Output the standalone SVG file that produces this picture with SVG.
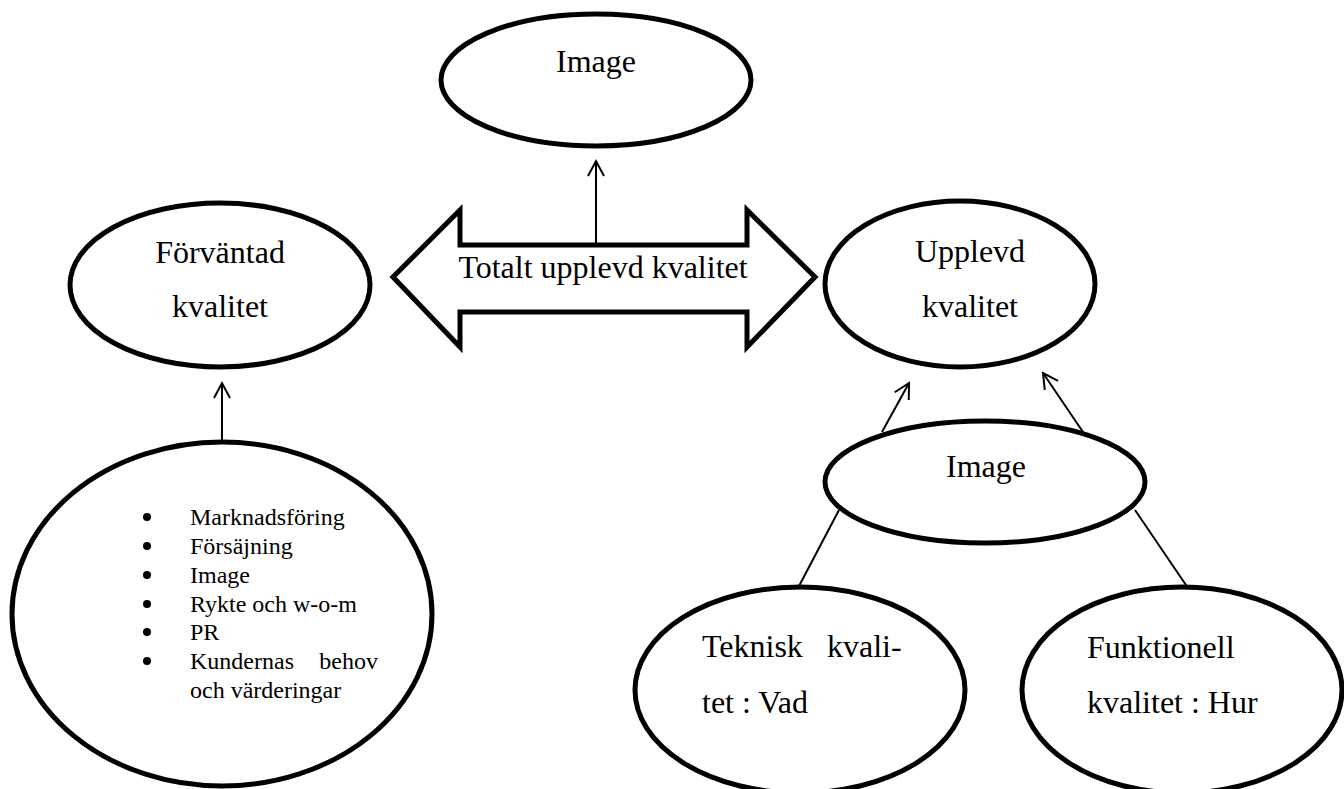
<svg xmlns="http://www.w3.org/2000/svg" width="1344" height="789" viewBox="0 0 1344 789">
<style>
.n{fill:#fff;stroke:#000;stroke-width:5}
.t{font-family:"Liberation Serif","Times New Roman",serif;font-size:32px;fill:#000}
.s{font-family:"Liberation Serif","Times New Roman",serif;font-size:24px;fill:#000}
.c{stroke:#000;stroke-width:2;fill:none}
</style>
<defs>
<marker id="ah" markerUnits="userSpaceOnUse" markerWidth="24" markerHeight="24" refX="0" refY="0" viewBox="-12 -12 24 24" orient="auto" overflow="visible">
<path d="M-15,-8 L0,0 L-15,8" fill="none" stroke="#000" stroke-width="2"/>
</marker>
<circle id="dot" r="4" fill="#000"/>
</defs>
<rect width="1344" height="789" fill="#fff"/>
<g id="connectors">
<line class="c" x1="596" y1="243" x2="596" y2="161" marker-end="url(#ah)"/>
<line class="c" x1="222" y1="442" x2="222" y2="383" marker-end="url(#ah)"/>
<line class="c" x1="882" y1="432" x2="909" y2="383" marker-end="url(#ah)"/>
<line class="c" x1="1083" y1="432" x2="1043" y2="373" marker-end="url(#ah)"/>
<line class="c" x1="839" y1="510" x2="798" y2="588"/>
<line class="c" x1="1135" y1="510" x2="1188" y2="588"/>
</g>
<g id="top-image">
<ellipse class="n" cx="596" cy="80" rx="155" ry="66"/>
<text class="t" x="596" y="72" text-anchor="middle">Image</text>
</g>
<g id="total">
<polygon class="n" points="393,277 460,210 460,245 747,245 747,210 815,277 747,347 747,312 460,312 460,347"/>
<text class="t" x="603" y="278" text-anchor="middle">Totalt upplevd kvalitet</text>
</g>
<g id="forvantad">
<ellipse class="n" cx="220" cy="285" rx="150" ry="82"/>
<text class="t" x="220" y="263" text-anchor="middle">Förväntad</text>
<text class="t" x="220" y="317" text-anchor="middle">kvalitet</text>
</g>
<g id="factors">
<ellipse class="n" cx="222" cy="614" rx="210" ry="172"/>
<use href="#dot" x="147" y="517"/>
<use href="#dot" x="147" y="546"/>
<use href="#dot" x="147" y="575"/>
<use href="#dot" x="147" y="604"/>
<use href="#dot" x="147" y="632"/>
<use href="#dot" x="147" y="661"/>
<g class="s">
<text x="190" y="525">Marknadsföring</text>
<text x="190" y="554">Försäjning</text>
<text x="190" y="583">Image</text>
<text x="190" y="612">Rykte och w-o-m</text>
<text x="190" y="640">PR</text>
<text x="190" y="669">Kundernas</text><text x="378" y="669" text-anchor="end">behov</text>
<text x="190" y="698">och värderingar</text>
</g>
</g>
<g id="upplevd">
<ellipse class="n" cx="960" cy="284" rx="135" ry="83"/>
<text class="t" x="970" y="262" text-anchor="middle">Upplevd</text>
<text class="t" x="970" y="317" text-anchor="middle">kvalitet</text>
</g>
<g id="image-right">
<ellipse class="n" cx="985" cy="482" rx="160" ry="61"/>
<text class="t" x="986" y="477" text-anchor="middle">Image</text>
</g>
<g id="teknisk">
<ellipse class="n" cx="800" cy="690" rx="165" ry="103"/>
<text class="t" x="702" y="657">Teknisk</text>
<text class="t" x="827" y="657">kvali-</text>
<text class="t" x="702" y="713">tet : Vad</text>
</g>
<g id="funktionell">
<ellipse class="n" cx="1182" cy="690" rx="160" ry="103"/>
<text class="t" x="1087" y="658">Funktionell</text>
<text class="t" x="1087" y="713">kvalitet : Hur</text>
</g>
</svg>
